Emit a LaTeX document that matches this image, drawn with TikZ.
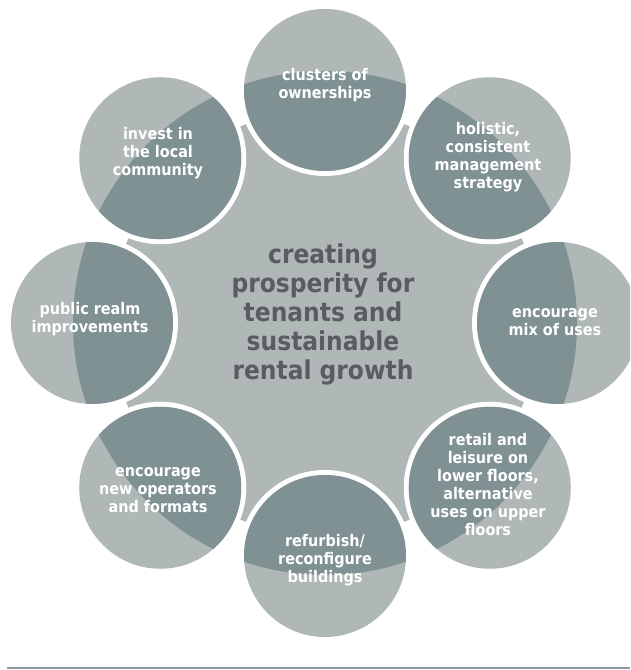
\documentclass[tikz,border=0pt]{standalone}
\usepackage{fontspec}
\newfontfamily\dinfont{DejaVu Sans Condensed}
\usetikzlibrary{calc}
\definecolor{lightg}{HTML}{AFB7B7}
\definecolor{darkg}{HTML}{7F9192}
\definecolor{centertxt}{HTML}{5A5C62}
\definecolor{rulecol}{HTML}{8E9A9C}
\tikzset{
  smalltxt/.style={text=white, align=center, inner sep=0pt,
    font=\dinfont\bfseries\fontsize{16}{18}\selectfont},
  bigtxt/.style={text=centertxt, align=center, inner sep=0pt,
    font=\dinfont\bfseries\fontsize{26}{29}\selectfont}
}
\begin{document}
\begin{tikzpicture}[x=1pt,y=1pt]
\useasboundingbox (0,0) rectangle (630,670);
\clip (0,0) rectangle (630,670);
\coordinate (O) at (325,347);
\fill[lightg] (O) circle (214);
\foreach \a/\n in {90/t,45/h,0/m,-45/r,-90/b,-135/n,180/p,135/i}{
  \coordinate (c\n) at ($(O)+(\a:233)$);
  \fill[white] (c\n) circle (86);
  \fill[lightg] (c\n) circle (81);
  \begin{scope}
    \clip (c\n) circle (81);
    \fill[darkg] (O) circle (252);
  \end{scope}
}
\node[bigtxt] (center) at (323,356) {creating\\prosperity for\\tenants and\\sustainable\\rental growth};
\node[smalltxt] (tt) at (325,585) {clusters of\\ownerships};
\node[smalltxt] (th) at (488,513) {holistic,\\consistent\\management\\strategy};
\node[smalltxt] (tm) at (555,348) {encourage\\mix of uses};
\node[smalltxt] (tr) at (488,185) {retail and\\leisure on\\lower floors,\\alternative\\uses on upper\\floors};
\node[smalltxt] (tb) at (325,110) {refurbish/\\reconfigure\\buildings};
\node[smalltxt] (tn) at (158,180) {encourage\\new operators\\and formats};
\node[smalltxt] (tp) at (90,351) {public realm\\improvements};
\node[smalltxt] (ti) at (158,517) {invest in\\the local\\community};
\coordinate (r1) at (7,2);
\coordinate (r2) at (630,2);
\draw[rulecol, line width=2pt] (r1) -- (r2);
\end{tikzpicture}
\end{document}
